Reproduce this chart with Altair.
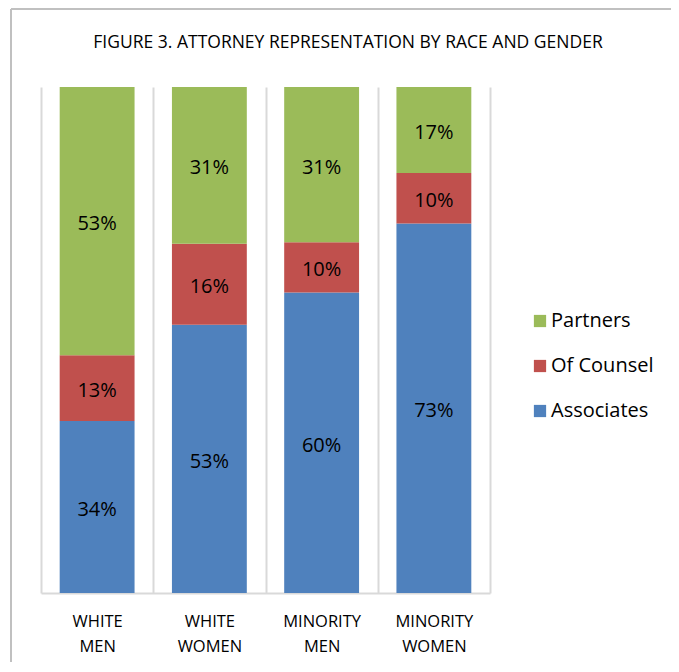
import altair as alt
import pandas as pd

categories = ["White Men", "White Women", "Minority Men", "Minority Women"]
associates = [34, 53, 60, 73]
of_counsel = [13, 16, 10, 10]
partners = [53, 31, 31, 17]
series_names = ["Partners", "Of Counsel", "Associates"]
series_colors = ["#9BBB59", "#C0504D", "#4F81BD"]
title_text = "FIGURE 3. ATTORNEY REPRESENTATION BY RACE AND GENDER"

rows = []
for i, c in enumerate(categories):
    rows.append({"category": c, "series": "Associates", "rank": 0, "value": associates[i]})
    rows.append({"category": c, "series": "Of Counsel", "rank": 1, "value": of_counsel[i]})
    rows.append({"category": c, "series": "Partners", "rank": 2, "value": partners[i]})
df = pd.DataFrame(rows)

FONT = "Open Sans"

base = alt.Chart(df).transform_stack(
    stack="value",
    groupby=["category"],
    as_=["y0", "y1"],
    offset="normalize",
    sort=[alt.SortField("rank", order="ascending")],
).transform_calculate(
    ymid="(datum.y0 + datum.y1) / 2",
    label="datum.value + '%'",
)

xenc = alt.X(
    "category:N",
    sort=categories,
    scale=alt.Scale(paddingInner=0, paddingOuter=0),
    axis=alt.Axis(
        title=None,
        ticks=False,
        grid=True,
        tickBand="extent",
        gridColor="#d9d9d9",
        gridWidth=2,
        domainColor="#d9d9d9",
        domainWidth=2,
        labelAngle=0,
        labelExpr="split(upper(datum.label), ' ')",
        labelFont=FONT,
        labelFontSize=16.5,
        labelLineHeight=25,
        labelPadding=20,
        labelColor="#000000",
    ),
)

bars = base.mark_bar(width=alt.RelativeBandSize(0.667)).encode(
    x=xenc,
    y=alt.Y("y0:Q", scale=alt.Scale(domain=[0, 1]), axis=None),
    y2="y1:Q",
    color=alt.Color(
        "series:N",
        scale=alt.Scale(domain=series_names, range=series_colors),
        legend=alt.Legend(
            title=None,
            orient="none",
            legendX=489,
            legendY=224,
            symbolType="square",
            symbolSize=150,
            symbolStrokeWidth=0,
            symbolOpacity=1,
            labelFont=FONT,
            labelFontSize=20,
            labelColor="#000000",
            labelLimit=0,
            rowPadding=25,
            labelOffset=1,
        ),
    ),
)

texts = base.mark_text(font=FONT, fontSize=20, color="#000000", dy=3).encode(
    x=alt.X("category:N", sort=categories),
    y=alt.Y("ymid:Q", scale=alt.Scale(domain=[0, 1])),
    text="label:N",
)

title_df = pd.DataFrame({"t": [title_text]})
title_mark = alt.Chart(title_df).mark_text(
    font=FONT, fontSize=17.5, color="#000000", align="center", baseline="middle"
).encode(x=alt.value(307), y=alt.value(-44), text="t:N")

frame_df = pd.DataFrame({"k": [0]})
frame_top = alt.Chart(frame_df).mark_rule(color="#c0c0c0", strokeWidth=2).encode(
    x=alt.value(-30), x2=alt.value(700), y=alt.value(-78)
)
frame_left = alt.Chart(frame_df).mark_rule(color="#c0c0c0", strokeWidth=2).encode(
    x=alt.value(-30), y=alt.value(-78), y2=alt.value(700)
)

chart = alt.layer(bars, texts, title_mark, frame_top, frame_left).properties(
    width=449,
    height=506,
    autosize=alt.AutoSizeParams(type="none"),
    padding={"left": 33, "top": 79, "right": 181, "bottom": 69},
).configure_view(stroke=None)

chart.save("out.html", embed_options={"renderer": "svg", "actions": False})
